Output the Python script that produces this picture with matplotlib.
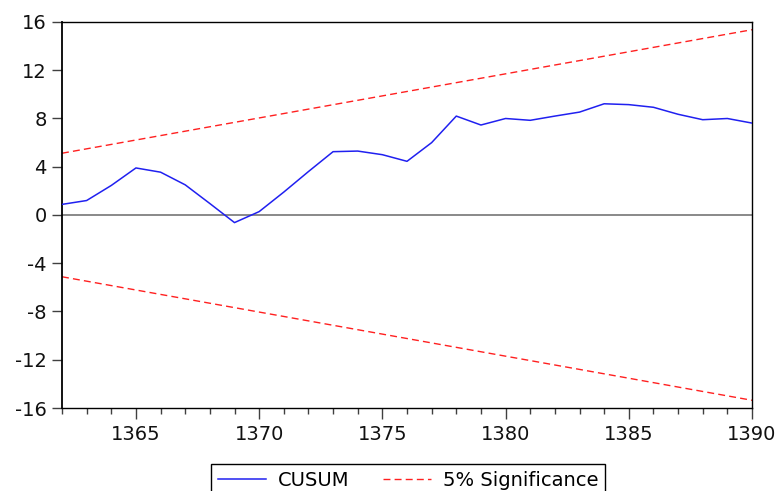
import matplotlib
matplotlib.use("Agg")
import matplotlib.pyplot as plt
from matplotlib.ticker import MultipleLocator

plt.rcParams["font.family"] = ["DejaVu Sans"]

years = list(range(1362, 1391))
cusum = [0.88, 1.20, 2.45, 3.90, 3.55, 2.50, 0.95, -0.63, 0.28, 1.90,
         3.60, 5.25, 5.30, 5.00, 4.45, 6.00, 8.20, 7.46, 8.00, 7.85,
         8.20, 8.53, 9.22, 9.15, 8.93, 8.35, 7.90, 8.00, 7.62]

bound_years = [1362, 1390]
upper_bound = [5.12, 15.36]
lower_bound = [-5.12, -15.36]

y_ticks = [-16, -12, -8, -4, 0, 4, 8, 12, 16]
x_ticks = [1365, 1370, 1375, 1380, 1385, 1390]

fig = plt.figure(figsize=(7.8, 4.91), dpi=100)
ax = fig.add_axes([62 / 780, 1 - 408 / 491, 690 / 780, 386 / 491])

ax.axhline(0, color="#808080", lw=1.3, zorder=1)
l1, = ax.plot(years, cusum, color="#2020F0", lw=1.1, label="CUSUM", zorder=3)
l2, = ax.plot(bound_years, upper_bound, color="#FF2020", lw=1.0,
              ls=(0, (5, 3)), label="5% Significance", zorder=2)
ax.plot(bound_years, lower_bound, color="#FF2020", lw=1.0, ls=(0, (5, 3)), zorder=2)

ax.set_xlim(1362, 1390)
ax.set_ylim(-16, 16)
ax.set_yticks(y_ticks)
ax.set_yticklabels([str(v) for v in y_ticks])
ax.set_xticks(x_ticks)
ax.set_xticklabels([str(v) for v in x_ticks])
ax.xaxis.set_minor_locator(MultipleLocator(1))

ax.tick_params(axis="both", which="major", direction="out", labelsize=14,
               color="#404040", width=1.0, labelcolor="#111111")
ax.tick_params(axis="y", which="major", length=7, pad=4)
ax.tick_params(axis="x", which="major", length=8, pad=4)
ax.tick_params(axis="x", which="minor", direction="out", length=4,
               color="#404040", width=1.0)

for s in ax.spines.values():
    s.set_color("black")
    s.set_linewidth(1.0)
ax.spines["left"].set_linewidth(1.3)

fig.legend(handles=[l1, l2], loc="upper center",
           bbox_to_anchor=(408 / 780, 1 - 464 / 491), ncol=2,
           fontsize=14, frameon=True, fancybox=False, edgecolor="black",
           framealpha=1, handlelength=2.5, columnspacing=1.7,
           handletextpad=0.6, borderpad=0.35, borderaxespad=0)

fig.savefig("out.png", dpi=100)
